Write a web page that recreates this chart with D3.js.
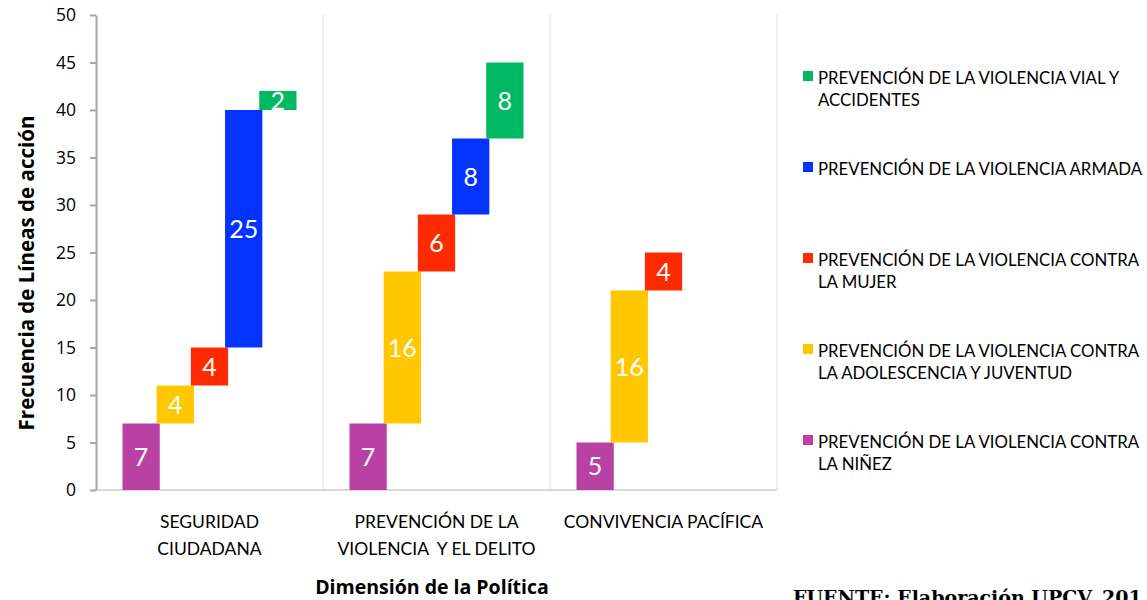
<!DOCTYPE html>
<html>
<head>
<meta charset="utf-8">
<script src="https://cdn.jsdelivr.net/npm/d3@7"></script>
<style>
  html, body { margin: 0; padding: 0; background: #fff; overflow: hidden; }
  svg { display: block; font-family: Lato, "Open Sans", sans-serif; }
</style>
</head>
<body>
<svg id="chart" width="1147" height="600"></svg>
<script>
// ---- Data ----
const categories = ["SEGURIDAD CIUDADANA", "PREVENCIÓN DE LA VIOLENCIA  Y EL DELITO", "CONVIVENCIA PACÍFICA"];
const categoryLines = [["SEGURIDAD", "CIUDADANA"], ["PREVENCIÓN DE LA", "VIOLENCIA  Y EL DELITO"], ["CONVIVENCIA PACÍFICA"]];
const seriesKeys = ["ninez", "adolescencia", "mujer", "armada", "vial"];
const ninez = [7, 7, 5];
const adolescencia = [4, 16, 16];
const mujer = [4, 6, 4];
const armada = [25, 8, null];
const vial = [2, 8, null];
const seriesColors = ["#B941A3", "#FFC700", "#FF2A00", "#0433FF", "#00B962"];
const legendLines = {
  vial: ["PREVENCIÓN DE LA VIOLENCIA VIAL Y", "ACCIDENTES"],
  armada: ["PREVENCIÓN DE LA VIOLENCIA ARMADA"],
  mujer: ["PREVENCIÓN DE LA VIOLENCIA CONTRA", "LA MUJER"],
  adolescencia: ["PREVENCIÓN DE LA VIOLENCIA CONTRA", "LA ADOLESCENCIA Y JUVENTUD"],
  ninez: ["PREVENCIÓN DE LA VIOLENCIA CONTRA", "LA NIÑEZ"]
};
const legendOrder = ["vial", "armada", "mujer", "adolescencia", "ninez"];
const yTicks = [0, 5, 10, 15, 20, 25, 30, 35, 40, 45, 50];
const yTitle = "Frecuencia de Líneas de acción";
const xTitle = "Dimensión de la Política";
const sourceText = "FUENTE: Elaboración UPCV, 201";

const seriesValues = { ninez, adolescencia, mujer, armada, vial };
const colorOf = d3.scaleOrdinal().domain(seriesKeys).range(seriesColors);

// ---- Layout ----
const svg = d3.select("#chart");
const plot = { left: 96, right: 777, top: 15, bottom: 490 };

const x0 = d3.scaleBand().domain(categories).range([plot.left, plot.right]).paddingInner(0).paddingOuter(0);
const x1 = d3.scaleBand().domain(seriesKeys).range([0, x0.bandwidth()]).paddingInner(0).paddingOuter(0.82);
const barW = x1.step() * 1.09;
const y = d3.scaleLinear().domain([0, 50]).range([plot.bottom, plot.top]);

// category separators (vertical light lines)
svg.append("g").selectAll("line")
  .data(categories)
  .join("line")
  .attr("x1", d => x0(d) + x0.bandwidth())
  .attr("x2", d => x0(d) + x0.bandwidth())
  .attr("y1", y(50))
  .attr("y2", y(0))
  .attr("stroke", "#EFEFEF")
  .attr("stroke-width", 2);

// x axis line
svg.append("line")
  .attr("x1", plot.left - 3).attr("x2", plot.right)
  .attr("y1", y(0)).attr("y2", y(0))
  .attr("stroke", "#D9D9D9").attr("stroke-width", 2);

// y axis
const yAxis = d3.axisLeft(y).tickValues(yTicks).tickSize(6).tickPadding(14).tickSizeOuter(0);
const gy = svg.append("g").attr("transform", `translate(${plot.left},0)`).call(yAxis);
gy.select(".domain").attr("stroke", "#A6A6A6").attr("stroke-width", 2);
gy.selectAll(".tick line").attr("stroke", "#A6A6A6").attr("stroke-width", 2);
gy.selectAll(".tick text").attr("font-family", "'Open Sans', sans-serif").attr("font-size", 17.5).attr("fill", "#000");

// bars (floating, cumulative within each category)
const barData = [];
categories.forEach((cat, ci) => {
  let base = 0;
  seriesKeys.forEach(k => {
    const v = seriesValues[k][ci];
    if (v == null) return;
    barData.push({ cat, key: k, value: v, y0: base, y1: base + v });
    base += v;
  });
});

const gBars = svg.append("g");
gBars.selectAll("rect")
  .data(barData)
  .join("rect")
  .attr("x", d => x0(d.cat) + x1(d.key) + x1.bandwidth() / 2 - barW / 2)
  .attr("width", barW)
  .attr("y", d => y(d.y1))
  .attr("height", d => y(d.y0) - y(d.y1))
  .attr("fill", d => colorOf(d.key));

gBars.selectAll("text")
  .data(barData)
  .join("text")
  .attr("x", d => x0(d.cat) + x1(d.key) + x1.bandwidth() / 2)
  .attr("y", d => (y(d.y0) + y(d.y1)) / 2)
  .attr("dy", "0.36em")
  .attr("text-anchor", "middle")
  .attr("font-size", 25)
  .attr("fill", "#fff")
  .text(d => d.value);

// category labels
const gCat = svg.append("g");
categories.forEach((cat, ci) => {
  const t = gCat.append("text")
    .attr("text-anchor", "middle")
    .attr("font-size", 17.5)
    .attr("fill", "#000")
    .style("white-space", "pre");
  categoryLines[ci].forEach((line, li) => {
    t.append("tspan")
      .attr("x", x0(cat) + x0.bandwidth() / 2)
      .attr("y", 528 + li * 27)
      .text(line);
  });
});

// axis titles
svg.append("text")
  .attr("transform", "translate(34, 273) rotate(-90)")
  .attr("text-anchor", "middle")
  .attr("font-family", "'Open Sans', sans-serif")
  .attr("font-size", 20.5)
  .attr("font-weight", "bold")
  .attr("fill", "#000")
  .text(yTitle);

svg.append("text")
  .attr("x", 432)
  .attr("y", 594)
  .attr("text-anchor", "middle")
  .attr("font-family", "'Open Sans', sans-serif")
  .attr("font-size", 19.5)
  .attr("font-weight", "bold")
  .attr("fill", "#000")
  .text(xTitle);

// legend
const gLeg = svg.append("g");
legendOrder.forEach((k, i) => {
  const baseY = 84 + i * 91;
  gLeg.append("rect")
    .attr("x", 803).attr("y", baseY - 13)
    .attr("width", 10).attr("height", 10)
    .attr("fill", colorOf(k));
  const t = gLeg.append("text").attr("font-size", 16.8).attr("fill", "#000");
  legendLines[k].forEach((line, li) => {
    t.append("tspan").attr("x", 818).attr("y", baseY + li * 22).text(line);
  });
});

// source
svg.append("text")
  .attr("x", 793)
  .attr("y", 604)
  .attr("font-family", "'DejaVu Serif', serif")
  .attr("font-weight", "bold")
  .attr("font-size", 19)
  .attr("fill", "#000")
  .text(sourceText);
</script>
</body>
</html>
